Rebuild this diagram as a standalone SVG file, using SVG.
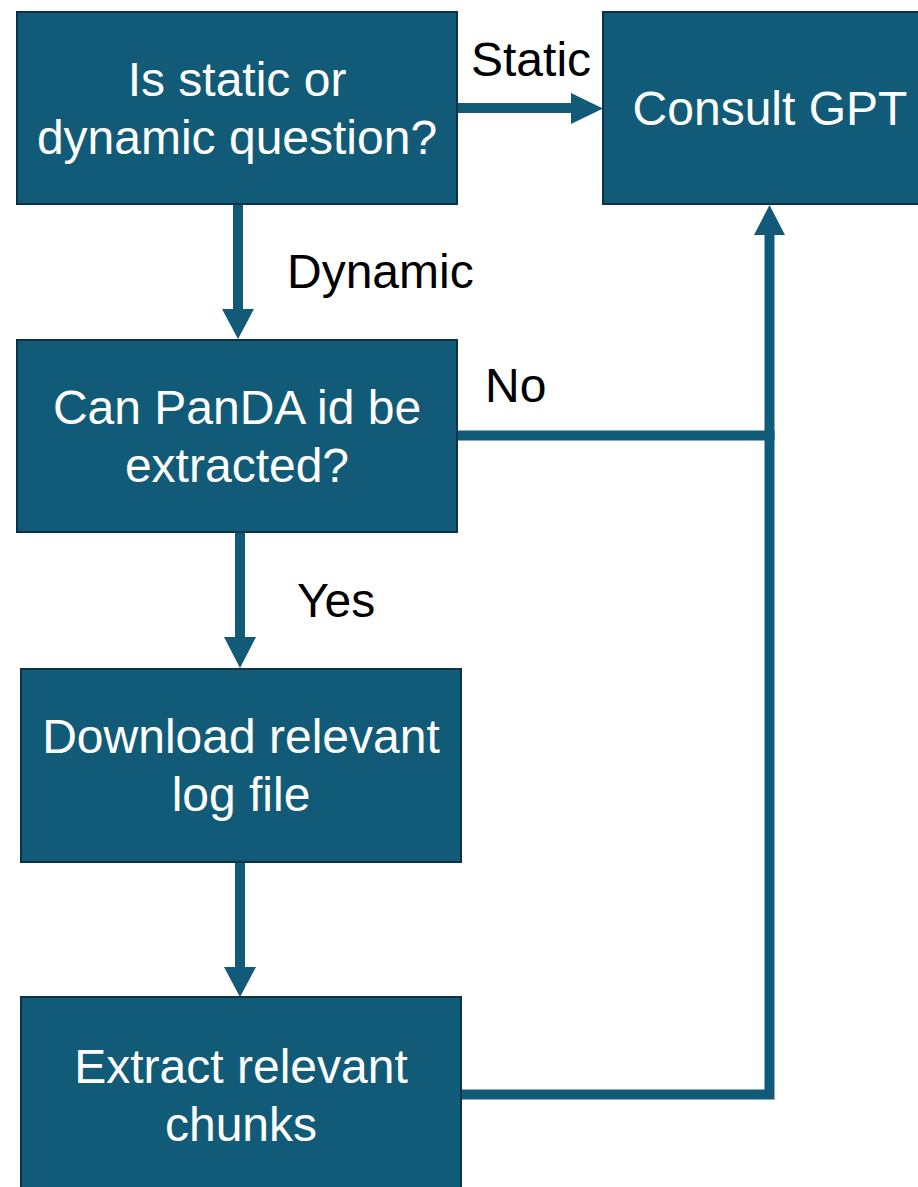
<svg xmlns="http://www.w3.org/2000/svg" width="918" height="1187" viewBox="0 0 918 1187">
<style>
.box{fill:#125b78;stroke:#0b3344;stroke-width:2}
.bt{font-family:"Liberation Sans",Arial,sans-serif;font-size:48px;fill:#ffffff;text-anchor:middle}
.lb{font-family:"Liberation Sans",Arial,sans-serif;font-size:48px;fill:#000000}
.ln{fill:none;stroke:#125b78;stroke-width:10;stroke-linejoin:miter}
.ah{fill:#125b78}
</style>
<rect width="918" height="1187" fill="#ffffff"/>
<g id="connectors">
<line class="ln" x1="457" y1="108" x2="572" y2="108"/>
<polygon class="ah" points="571,93 603,108.5 571,124"/>
<line class="ln" x1="238" y1="204" x2="238" y2="310"/>
<polygon class="ah" points="222,309 254,309 238,339"/>
<line class="ln" x1="240" y1="532" x2="240" y2="638"/>
<polygon class="ah" points="224,637 256,637 240,668"/>
<line class="ln" x1="240" y1="862" x2="240" y2="968"/>
<polygon class="ah" points="224,967 256,967 240,997"/>
<line class="ln" x1="457" y1="435.5" x2="774.5" y2="435.5"/>
<polyline class="ln" points="461,1094.5 769.5,1094.5 769.5,234"/>
<polygon class="ah" points="754,235 785,235 769.5,205"/>
<text class="lb" x="471" y="76">Static</text>
<text class="lb" x="287" y="288">Dynamic</text>
<text class="lb" x="485" y="402">No</text>
<text class="lb" x="297" y="617">Yes</text>
</g>
<g id="node-question">
<rect class="box" x="17" y="12" width="440" height="192"/>
<text class="bt" x="237" y="96">Is static or</text>
<text class="bt" x="237" y="154">dynamic question?</text>
</g>
<g id="node-consult">
<rect class="box" x="603" y="12" width="340" height="192"/>
<text class="bt" x="770" y="125">Consult GPT</text>
</g>
<g id="node-panda">
<rect class="box" x="17" y="340" width="440" height="192"/>
<text class="bt" x="237" y="424">Can PanDA id be</text>
<text class="bt" x="237" y="482">extracted?</text>
</g>
<g id="node-download">
<rect class="box" x="21" y="669" width="440" height="193"/>
<text class="bt" x="241" y="753">Download relevant</text>
<text class="bt" x="241" y="811">log file</text>
</g>
<g id="node-extract">
<rect class="box" x="21" y="997" width="440" height="200"/>
<text class="bt" x="241" y="1083">Extract relevant</text>
<text class="bt" x="241" y="1141">chunks</text>
</g>
</svg>
